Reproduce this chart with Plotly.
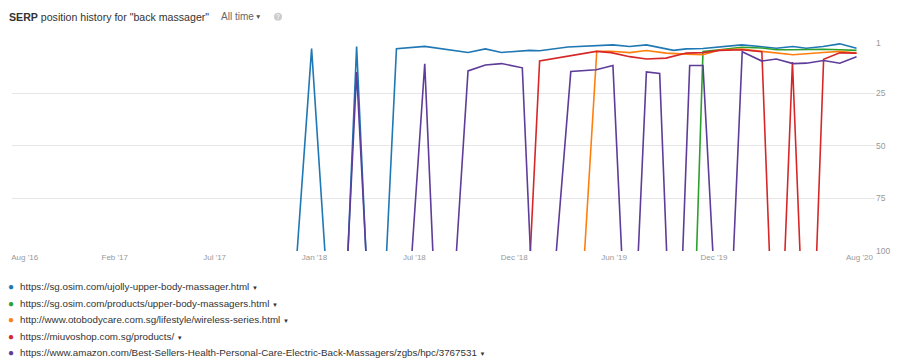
import plotly.graph_objects as go

# ---------------- data ----------------
series_names = [
    "https://sg.osim.com/ujolly-upper-body-massager.html",
    "https://sg.osim.com/products/upper-body-massagers.html",
    "http://www.otobodycare.com.sg/lifestyle/wireless-series.html",
    "https://miuvoshop.com.sg/products/",
    "https://www.amazon.com/Best-Sellers-Health-Personal-Care-Electric-Back-Massagers/zgbs/hpc/3767531",
]
series_colors = ["#1f77b4", "#2ca02c", "#ff7f0e", "#d62728", "#5e3c99"]

blue_dates = ["2017-12-17", "2018-01-11", "2018-02-03", "2018-02-20", "2018-03-15", "2018-03-30",
              "2018-04-15", "2018-05-01", "2018-05-21", "2018-06-07", "2018-07-26", "2018-10-09",
              "2018-11-08", "2018-12-06", "2019-01-24", "2019-02-10", "2019-03-31", "2019-05-17",
              "2019-06-17", "2019-07-16", "2019-08-14", "2019-09-30", "2019-10-22", "2019-11-20",
              "2019-12-19", "2020-01-26", "2020-02-27", "2020-03-26", "2020-04-24", "2020-05-17",
              "2020-06-15", "2020-07-14", "2020-08-12"]
blue_pos = [100, 3.7, 100, None, 100, 2.7, 100, None, 100, 3.7, 2.6, 5.5, 3.8, 5.5, 4.5, 4.7,
            2.9, 2.4, 1.9, 2.7, 1.9, 4.5, 3.8, 3.6, 2.9, 1.9, 2.7, 3.5, 2.7, 3.5, 2.7, 1.4, 3.5]

green_dates = ["2019-11-09", "2019-11-20", "2019-12-19", "2020-01-26", "2020-03-01", "2020-03-26",
               "2020-04-24", "2020-05-17", "2020-06-15", "2020-07-14", "2020-08-12"]
green_pos = [100, 5.0, 4.2, 3.0, 3.4, 4.2, 4.2, 4.0, 4.0, 4.2, 4.5]

orange_dates = ["2019-04-29", "2019-05-20", "2019-06-14", "2019-07-16", "2019-08-14", "2019-09-17",
                "2019-10-22", "2019-11-20", "2019-12-19", "2020-01-26", "2020-03-01", "2020-04-24",
                "2020-06-15", "2020-07-14", "2020-08-12"]
orange_pos = [100, 4.9, 4.9, 5.6, 4.6, 5.8, 6.3, 6.6, 4.3, 3.9, 5.0, 6.6, 5.5, 5.0, 5.8]

red_dates = ["2019-01-25", "2019-02-10", "2019-05-19", "2019-06-14", "2019-07-16", "2019-08-14",
             "2019-09-17", "2019-10-22", "2019-11-20", "2019-12-19", "2020-01-26", "2020-03-01",
             "2020-03-14", "2020-03-28", "2020-04-10", "2020-04-23", "2020-05-06", "2020-05-20",
             "2020-06-04", "2020-06-16", "2020-07-14", "2020-08-12"]
red_pos = [100, 9.5, 5.0, 5.6, 7.5, 8.6, 8.2, 5.8, 5.6, 4.5, 4.2, 5.2, 100, None, 100, 10.0, 100,
           None, 100, 8.7, 5.7, 5.8]

purple_dates = ["2018-03-15", "2018-03-30", "2018-04-15", "2018-05-20", "2018-07-04", "2018-07-26",
                "2018-08-09", "2018-08-30", "2018-09-19", "2018-10-09", "2018-11-08", "2018-12-06",
                "2019-01-11", "2019-01-25", "2019-02-15", "2019-03-11", "2019-04-05", "2019-05-19",
                "2019-06-17", "2019-07-02", "2019-07-15", "2019-07-31", "2019-08-14", "2019-09-06",
                "2019-09-18", "2019-10-01", "2019-10-16", "2019-10-28", "2019-11-20", "2019-12-07",
                "2019-12-25", "2020-01-12", "2020-01-27", "2020-03-01", "2020-03-26", "2020-04-24",
                "2020-05-17", "2020-06-16", "2020-07-14", "2020-08-12"]
purple_pos = [100, 14.8, 100, None, 100, 10.9, 100, None, 100, 14.3, 11.5, 10.8, 12.8, 100, None,
              100, 14.6, 13.7, 11.7, 100, None, 100, 14.8, 15.5, 100, None, 100, 11.7, 11.7, 100,
              None, 100, 5.2, 9.6, 8.6, 10.8, 10.6, 9.3, 10.6, 7.5]

x_tick_dates = ["2016-09-01", "2017-02-04", "2017-07-27", "2018-01-16", "2018-07-08",
                "2018-12-28", "2019-06-19", "2019-12-09", "2020-08-17"]
x_tick_labels = ["Aug '16", "Feb '17", "Jul '17", "Jan '18", "Jul '18",
                 "Dec '18", "Jun '19", "Dec '19", "Aug '20"]
y_ticks = [1, 25, 50, 75, 100]

title_text = "<b>SERP</b> position history for \"back massager\""
period_text = "All time"

# ---------------- figure ----------------
OFF = 8                      # page body margin in the browser
W, H = 902 - OFF, 364 - OFF  # figure size so that it fits the window
# plot area in screen pixels, converted to figure pixels
L, R, T, B = 12 - OFF, 875 - OFF, 42.5 - OFF, 251.5 - OFF


def px_x(sx):
    """screen pixel x -> paper coordinate"""
    return (sx - OFF - L) / (R - L)


def px_y(sy):
    """screen pixel y -> paper coordinate"""
    return (B - (sy - OFF)) / (B - T)


fig = go.Figure()
all_dates = [blue_dates, green_dates, orange_dates, red_dates, purple_dates]
all_pos = [blue_pos, green_pos, orange_pos, red_pos, purple_pos]
for name, color, d, p in zip(series_names, series_colors, all_dates, all_pos):
    fig.add_trace(go.Scatter(x=d, y=p, mode="lines", name=name, connectgaps=False,
                             line=dict(color=color, width=1.6), showlegend=False,
                             hoverinfo="x+y"))

annotations = [
    dict(x=px_x(7), y=px_y(16), xref="paper", yref="paper", text=title_text, showarrow=False,
         xanchor="left", yanchor="middle", font=dict(size=10.6, color="#333333")),
    dict(x=px_x(219), y=px_y(16), xref="paper", yref="paper", text=period_text, showarrow=False,
         xanchor="left", yanchor="middle", font=dict(size=10, color="#666666")),
    dict(x=px_x(258), y=px_y(15.5), xref="paper", yref="paper", text="▼", showarrow=False,
         xanchor="center", yanchor="middle", font=dict(size=6.5, color="#555555")),
    dict(x=px_x(278), y=px_y(16), xref="paper", yref="paper", text="?", showarrow=False,
         xanchor="center", yanchor="middle", font=dict(size=6.5, color="#ffffff")),
]
for i, (name, color) in enumerate(zip(series_names, series_colors)):
    ypix = 287.5 + 16.5 * i
    annotations.append(dict(x=px_x(11), y=px_y(ypix), xref="paper", yref="paper", text="●",
                            showarrow=False, xanchor="center", yanchor="middle",
                            font=dict(size=10, color=color)))
    annotations.append(dict(x=px_x(18), y=px_y(ypix), xref="paper", yref="paper",
                            text=name + " <span style='font-size:6px'>▼</span>",
                            showarrow=False, xanchor="left", yanchor="middle",
                            font=dict(size=9.8, color="#333333")))

fig.update_layout(
    width=W, height=H,
    margin=dict(l=L, r=W - R, t=T, b=H - B, pad=0),
    paper_bgcolor="white", plot_bgcolor="white",
    font=dict(family="Liberation Sans, Arial, sans-serif", color="#333333"),
    showlegend=False,
    annotations=annotations,
    shapes=[dict(type="circle", xref="paper", yref="paper",
                 x0=px_x(274), x1=px_x(282), y0=px_y(20), y1=px_y(12),
                 fillcolor="#cccccc", line=dict(width=0))],
    xaxis=dict(type="date", range=["2016-08-10", "2020-09-13"],
               tickvals=x_tick_dates, ticktext=x_tick_labels,
               showgrid=False, zeroline=False, showline=False, ticks="",
               tickfont=dict(size=8, color="#999999")),
    yaxis=dict(range=[100, 1], side="right", tickvals=y_ticks,
               showgrid=True, gridcolor="#e6e6e6", gridwidth=1, zeroline=False,
               showline=False, ticks="", tickfont=dict(size=8.5, color="#999999")),
)

fig.write_html("out.html")
